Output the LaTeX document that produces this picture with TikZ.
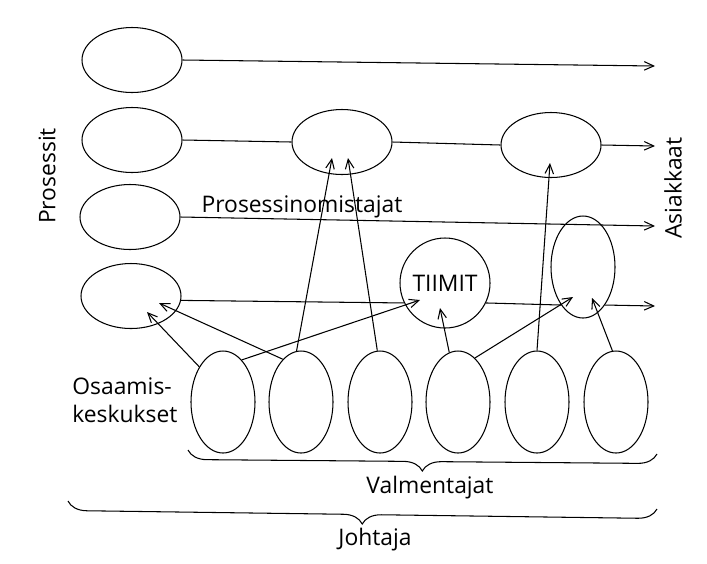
\documentclass[tikz,border=0pt]{standalone}
\usepackage{fontspec}
\setsansfont{Open Sans}
\tikzset{every picture/.style={/utils/exec={\sffamily}}}
\usetikzlibrary{calc}
\usetikzlibrary{shapes.geometric, arrows.meta, decorations.pathreplacing}

\tikzset{
  proc/.style={draw, ellipse, minimum width=2cm, minimum height=1.3cm, inner sep=0pt},
  tall/.style={draw, ellipse, minimum width=1.28cm, minimum height=2.04cm, inner sep=0pt},
  team/.style={draw, circle, minimum size=1.8cm, inner sep=0pt},
  curly/.style={decorate, decoration={brace, mirror, amplitude=0.38cm}}
}

\begin{document}
\begin{tikzpicture}[x=0.2mm, y=-0.2mm, line width=0.6pt,
    >={Straight Barb[length=1.9mm,width=1.7mm]},
    font=\fontsize{13}{16}\selectfont]
  \useasboundingbox (0,0) rectangle (707,563);

  % processes on the left
  \node [proc] (p1) at (132,60) {};
  \node [proc] (p2) at (132,140) {};
  \node [proc] (p3) at (130,217) {};
  \node [proc] (p4) at (131,296) {};

  \node [proc] (m1) at (342,142) {};
  \node [proc] (m2) at (551,145) {};
  \node [team] (tiimit) at (445,283) {TIIMIT};
  \node [tall] (t) at (583,267) {};

  \node [rotate=90] (pros) at (47,176) {Prosessit};
  \node [rotate=90] (asiak) at (673,188) {Asiakkaat};
  \node (omist) at (302,207) {Prosessinomistajat};

  % ends of the process lines
  \coordinate (c1) at (655,66);
  \coordinate (c2) at (655,146);
  \coordinate (c3) at (655,226);
  \coordinate (c4) at (655,306);

  \draw [->] (p1.east) -- (c1);
  \draw (p2.east) -- (m1.west);
  \draw (m1.east) -- (m2.west);
  \draw [->] (m2.east) -- (c2);
  \draw [->] (p3.east) -- (c3);
  \draw (p4.-5) -- (tiimit.206);
  \draw (tiimit.-26) -- (t.240);
  \draw [->] (t.-60) -- (c4);

  % Osaamiskeskukset:
  \foreach \x [count=\i] in {223,301,380,458,537,616} {
    \node [tall] (b\i) at (\x,402) {};
  }
  \node [anchor=west, align=left] (osaam) at (66,400) {Osaamis-\\keskukset};

  \draw [->] (b1.124) -- ($(p4)+(16,16)$);
  \draw [->] (b2.113) -- ($(p4)+(28,7)$);
  \draw [->] (b1.66) -- ($(tiimit)+(-25,17)$);
  \draw [->] (b2.95) -- ($(m1)+(-10,16)$);
  \draw [->] (b3.93) -- ($(m1)+(6,16)$);
  \draw [->] (b4.100) -- ($(tiimit)+(-5,25)$);
  \draw [->] (b4.69) -- ($(t)+(-10,30)$);
  \draw [->] (b5.north) -- ($(m2)+(-1,18)$);
  \draw [->] (b6.94) -- ($(t)+(9,31)$);

  % braces
  \coordinate (v1) at (188,450);
  \coordinate (v2) at (657,454);
  \coordinate (j1) at (68,501);
  \coordinate (j2) at (657,509);
  \draw [curly] (v1) -- (v2);
  \draw [curly] (j1) -- (j2);
  \node (valm) at (430,488) {Valmentajat};
  \node (johtaja) at (375,540) {Johtaja};
\end{tikzpicture}
\end{document}
